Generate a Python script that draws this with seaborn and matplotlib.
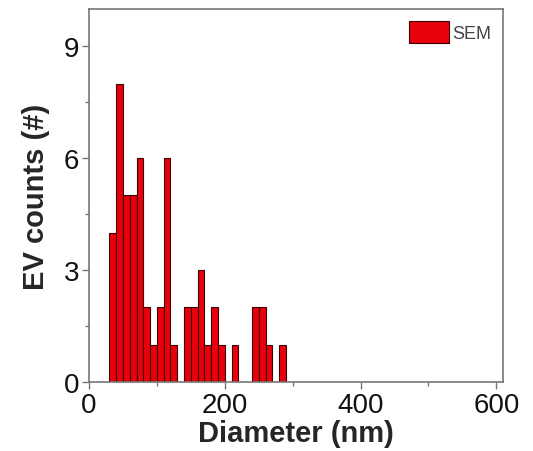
import matplotlib
matplotlib.use("Agg")
import matplotlib.pyplot as plt
from matplotlib.ticker import MultipleLocator
import numpy as np
import pandas as pd
import seaborn as sns

# Histogram: 10 nm bins starting at 30 nm
bin_left = [30, 40, 50, 60, 70, 80, 90, 100, 110, 120, 130, 140, 150, 160,
            170, 180, 190, 200, 210, 220, 230, 240, 250, 260, 270, 280]
counts = [4, 8, 5, 5, 6, 2, 1, 2, 6, 1, 0, 2, 2, 3,
          1, 2, 1, 0, 1, 0, 0, 2, 2, 1, 0, 1]
bin_width = 10

df = pd.DataFrame({"diameter": np.array(bin_left) + bin_width / 2, "count": counts})
edges = list(bin_left) + [bin_left[-1] + bin_width]

sns.set_style("ticks")
plt.rcParams["font.family"] = ["Liberation Sans", "DejaVu Sans"]

fig = plt.figure(figsize=(5.33, 4.52), dpi=100)
ax = fig.add_axes([0.167, 0.153, 0.777, 0.825])

sns.histplot(
    data=df,
    x="diameter",
    weights="count",
    bins=edges,
    color="#e8000b",
    edgecolor="#3a0000",
    linewidth=0.8,
    alpha=1,
    label="SEM",
    ax=ax,
)

ax.set_xlim(0, 610)
ax.set_ylim(0, 10)
ax.xaxis.set_major_locator(MultipleLocator(200))
ax.xaxis.set_minor_locator(MultipleLocator(100))
ax.yaxis.set_major_locator(MultipleLocator(3))
ax.yaxis.set_minor_locator(MultipleLocator(1.5))
ax.tick_params(which="major", direction="out", length=5, width=1, colors="#777777",
               labelsize=20, labelcolor="#111111", pad=2)
ax.tick_params(which="minor", direction="out", length=3, width=1, colors="#777777")
for side in ["top", "right", "left", "bottom"]:
    ax.spines[side].set_visible(True)
    ax.spines[side].set_color("#777777")
    ax.spines[side].set_linewidth(1.2)

ax.set_xlabel("Diameter (nm)", fontsize=21, fontweight="bold", labelpad=1)
ax.set_ylabel("EV counts (#)", fontsize=21, fontweight="bold", labelpad=10)

leg = ax.legend(loc="upper right", frameon=False, fontsize=13, handlelength=2.2,
                handleheight=1.5, handletextpad=0.2, borderaxespad=0.25)
for t in leg.get_texts():
    t.set_color("#444444")

fig.savefig("out.png", dpi=100)
